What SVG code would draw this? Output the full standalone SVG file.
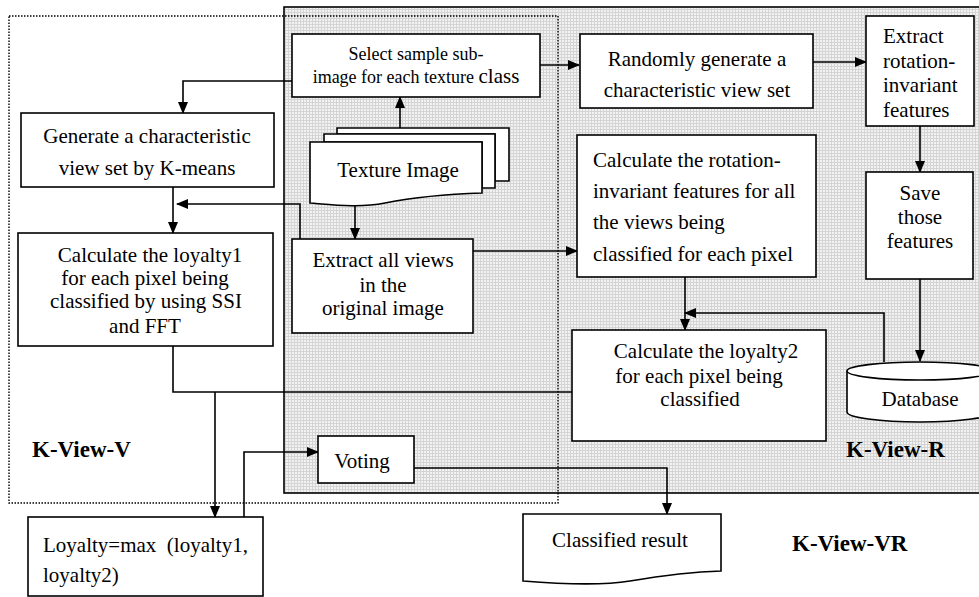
<svg xmlns="http://www.w3.org/2000/svg" width="979" height="597" viewBox="0 0 979 597" font-family="'Liberation Serif', 'Times New Roman', serif">
<defs>
<pattern id="grid" width="3" height="3" patternUnits="userSpaceOnUse">
<rect width="3" height="3" fill="#f2f2f2"/>
<rect width="3" height="1" fill="#d4d4d4"/>
<rect width="1" height="3" fill="#d4d4d4"/>
</pattern>
<marker id="ah" markerWidth="12" markerHeight="10" refX="11" refY="5" orient="auto" markerUnits="userSpaceOnUse">
<path d="M0,0 L12,5 L0,10 Z" fill="#000"/>
</marker>
</defs>
<style>
.box{fill:#fff;stroke:#000;stroke-width:1.6}
.t{font-family:"Liberation Serif","Times New Roman",serif;font-size:21px;fill:#000}
.c{text-anchor:middle}
.s{font-size:18px}
.b{font-weight:bold;font-size:23px}
.ln{fill:none;stroke:#000;stroke-width:1.6}
.ar{fill:none;stroke:#000;stroke-width:1.6;marker-end:url(#ah)}
</style>
<g id="panel-r">
<rect x="284" y="7" width="698" height="486" fill="url(#grid)" stroke="#000" stroke-width="1.6"/>
</g>
<g id="panel-v">
<rect x="9" y="16" width="549" height="487" fill="none" stroke="#000" stroke-width="1.4" stroke-dasharray="1.5,1.5"/>
</g>
<g id="connectors">
<path class="ar" d="M292,81 H183 V113"/>
<path class="ar" d="M540,65 H579"/>
<path class="ar" d="M813,62 H866"/>
<path class="ar" d="M920,126 V172"/>
<path class="ar" d="M920,279 V361"/>
<path class="ar" d="M400,128 V97"/>
<path class="ar" d="M355,205 V239"/>
<path class="ar" d="M173,187 V233"/>
<path class="ar" d="M300,239 V204 H177"/>
<path class="ar" d="M473,251 H577"/>
<path class="ar" d="M685,277 V330"/>
<path class="ar" d="M884,362 V313 H685"/>
<path class="ln" d="M173,346 V392 H572"/>
<path class="ar" d="M215,392 V517"/>
<path class="ar" d="M244,517 V452 H318"/>
<path class="ar" d="M414,468 H667 V514"/>
</g>
<g id="select">
<rect class="box" x="292" y="34" width="248" height="63"/>
<text class="t s c" x="416" y="60">Select sample sub-</text>
<text class="t s c" x="416" y="83">image for each texture <tspan style="font-size:21px">class</tspan></text>
</g>
<g id="randomly">
<rect class="box" x="580" y="34" width="233" height="74"/>
<text class="t c" x="697" y="66">Randomly generate a</text>
<text class="t c" x="697" y="97">characteristic view set</text>
</g>
<g id="extract-rot">
<rect class="box" x="866" y="16" width="108" height="110"/>
<text class="t" x="883" y="43">Extract</text>
<text class="t" x="883" y="68">rotation-</text>
<text class="t" x="883" y="92">invariant</text>
<text class="t" x="883" y="117">features</text>
</g>
<g id="save">
<rect class="box" x="866" y="172" width="107" height="107"/>
<text class="t c" x="920" y="200">Save</text>
<text class="t c" x="920" y="224">those</text>
<text class="t c" x="920" y="248">features</text>
</g>
<g id="database">
<path class="box" d="M847,371 V412 A73,10 0 0 0 993,412 V371"/>
<ellipse class="box" cx="920" cy="371" rx="73" ry="9"/>
<text class="t c" x="920" y="406">Database</text>
</g>
<g id="calc-rot">
<rect class="box" x="577" y="135" width="239" height="142"/>
<text class="t" x="593" y="167">Calculate the rotation-</text>
<text class="t" x="593" y="198">invariant features for all</text>
<text class="t" x="593" y="229">the views being</text>
<text class="t" x="593" y="261">classified for each pixel</text>
</g>
<g id="calc-l2">
<rect class="box" x="572" y="330" width="254" height="111"/>
<text class="t c" x="706" y="358">Calculate the loyalty2</text>
<text class="t c" x="699" y="383">for each pixel being</text>
<text class="t c" x="700" y="406">classified</text>
</g>
<g id="generate">
<rect class="box" x="21" y="113" width="253" height="74"/>
<text class="t c" x="147" y="143">Generate a characteristic</text>
<text class="t c" x="147" y="175">view set by K-means</text>
</g>
<g id="calc-l1">
<rect class="box" x="18" y="233" width="255" height="113"/>
<text class="t c" x="150" y="262">Calculate the loyalty1</text>
<text class="t c" x="145" y="285">for each pixel being</text>
<text class="t c" x="146" y="308">classified by using SSI</text>
<text class="t c" x="145" y="333">and FFT</text>
</g>
<g id="texture">
<path class="box" d="M337,128 H509 V181 H495 V134 H337 Z"/>
<path class="box" d="M324,134 H495 V188 H482 V142 H324 Z"/>
<path class="box" d="M310,142 H482 V193 C450,194 420,196 385,203 C360,208 335,205 310,203 Z"/>
<text class="t c" x="398" y="177">Texture Image</text>
</g>
<g id="extract-all">
<rect class="box" x="292" y="239" width="181" height="94"/>
<text class="t c" x="383" y="267">Extract all views</text>
<text class="t c" x="383" y="292">in the</text>
<text class="t c" x="383" y="315">original image</text>
</g>
<g id="voting">
<rect class="box" x="318" y="436" width="96" height="47"/>
<text class="t c" x="362" y="468">Voting</text>
</g>
<g id="loyalty">
<rect class="box" x="28" y="517" width="235" height="79"/>
<text class="t" x="43" y="552" xml:space="preserve">Loyalty=max  (loyalty1,</text>
<text class="t" x="43" y="582">loyalty2)</text>
</g>
<g id="classified">
<path class="box" d="M523,514 H721 V571 C690,572 660,576 630,581 C600,586 560,584 523,581 Z"/>
<text class="t c" x="620" y="547">Classified result</text>
</g>
<g id="labels">
<text class="t b" x="32" y="457">K-View-V</text>
<text class="t b" x="846" y="457">K-View-R</text>
<text class="t b" x="792" y="551">K-View-VR</text>
</g>
</svg>
